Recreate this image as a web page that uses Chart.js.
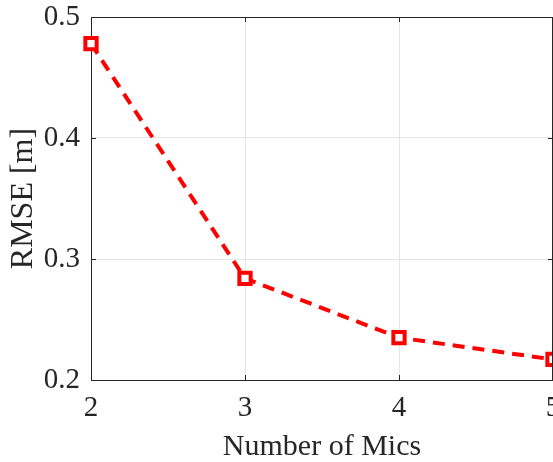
<!DOCTYPE html>
<html>
<head>
<meta charset="utf-8">
<script src="https://cdn.jsdelivr.net/npm/chart.js@4"></script>
<style>
  html, body { margin: 0; padding: 0; background: #fff; }
  #wrap { width: 553px; height: 462px; }
</style>
</head>
<body>
<div id="wrap"><canvas id="chart" width="553" height="462"></canvas></div>
<script>
(function () {
  'use strict';

  // ── Data ────────────────────────────────────────────────
  var micCounts = [2, 3, 4, 5];
  var rmse      = [0.478, 0.284, 0.235, 0.217];
  var xTicks    = [2, 3, 4, 5];
  var yTicks    = [0.2, 0.3, 0.4, 0.5];

  var RED   = '#ff0000';
  var AXIS  = '#262626';
  var GRID  = '#e6e6e6';
  var FONT  = "'Liberation Serif', 'Times New Roman', serif";

  // top/right frame + inward tick marks, like a MATLAB box
  var boxPlugin = {
    id: 'box',
    afterDraw: function (chart) {
      var c = chart.ctx, a = chart.chartArea;
      var xs = chart.scales.x, ys = chart.scales.y;
      c.save();
      c.strokeStyle = AXIS;
      c.lineWidth = 1;
      c.beginPath();
      c.moveTo(a.left, a.top + 0.5);
      c.lineTo(a.right - 0.5, a.top + 0.5);
      c.lineTo(a.right - 0.5, a.bottom);
      xTicks.forEach(function (v) {
        var px = Math.round(xs.getPixelForValue(v)) + 0.5;
        c.moveTo(px, a.bottom); c.lineTo(px, a.bottom - 5);
        c.moveTo(px, a.top);    c.lineTo(px, a.top + 5);
      });
      yTicks.forEach(function (v) {
        var py = Math.round(ys.getPixelForValue(v)) + 0.5;
        c.moveTo(a.left, py);  c.lineTo(a.left + 5, py);
        c.moveTo(a.right, py); c.lineTo(a.right - 5, py);
      });
      c.stroke();
      c.restore();
    }
  };

  function points() {
    return micCounts.map(function (m, i) { return { x: m, y: rmse[i] }; });
  }

  new Chart(document.getElementById('chart'), {
    type: 'line',
    data: {
      datasets: [{
        data: points(),
        borderColor: RED,
        borderWidth: 4,
        borderDash: [12, 8],
        fill: false,
        tension: 0,
        clip: false,
        pointStyle: 'rect',
        pointRadius: 8,
        pointBorderWidth: 4,
        pointBorderColor: RED,
        pointBackgroundColor: '#fff'
      }]
    },
    options: {
      responsive: false,
      animation: false,
      layout: { autoPadding: false, padding: { top: 17, right: 0, bottom: 0, left: 0 } },
      plugins: { legend: { display: false }, tooltip: { enabled: false } },
      scales: {
        x: {
          type: 'linear',
          min: 2, max: 5,
          afterBuildTicks: function (s) { s.ticks = xTicks.map(function (v) { return { value: v }; }); },
          afterFit: function (s) { s.height = 82; s.paddingLeft = 0; s.paddingRight = 0; },
          grid: { color: GRID, drawTicks: false },
          border: { color: AXIS, width: 1 },
          ticks: { color: AXIS, font: { family: FONT, size: 29 }, padding: 11, maxRotation: 0 },
          title: { display: true, text: 'Number of Mics', color: AXIS, font: { family: FONT, size: 30, lineHeight: 1 }, padding: { top: 0, bottom: 0 } }
        },
        y: {
          min: 0.2, max: 0.5,
          afterBuildTicks: function (s) { s.ticks = yTicks.map(function (v) { return { value: v }; }); },
          afterFit: function (s) { s.width = 91; s.paddingTop = 0; s.paddingBottom = 0; },
          grid: { color: GRID, drawTicks: false },
          border: { color: AXIS, width: 1 },
          ticks: {
            color: AXIS, font: { family: FONT, size: 29 }, padding: 11,
            callback: function (v) { return v.toFixed(1); }
          },
          title: { display: true, text: 'RMSE [m]', color: AXIS, font: { family: FONT, size: 32, lineHeight: 1 }, padding: { top: 8, bottom: 0 } }
        }
      }
    },
    plugins: [boxPlugin]
  });
}());
</script>
</body>
</html>
